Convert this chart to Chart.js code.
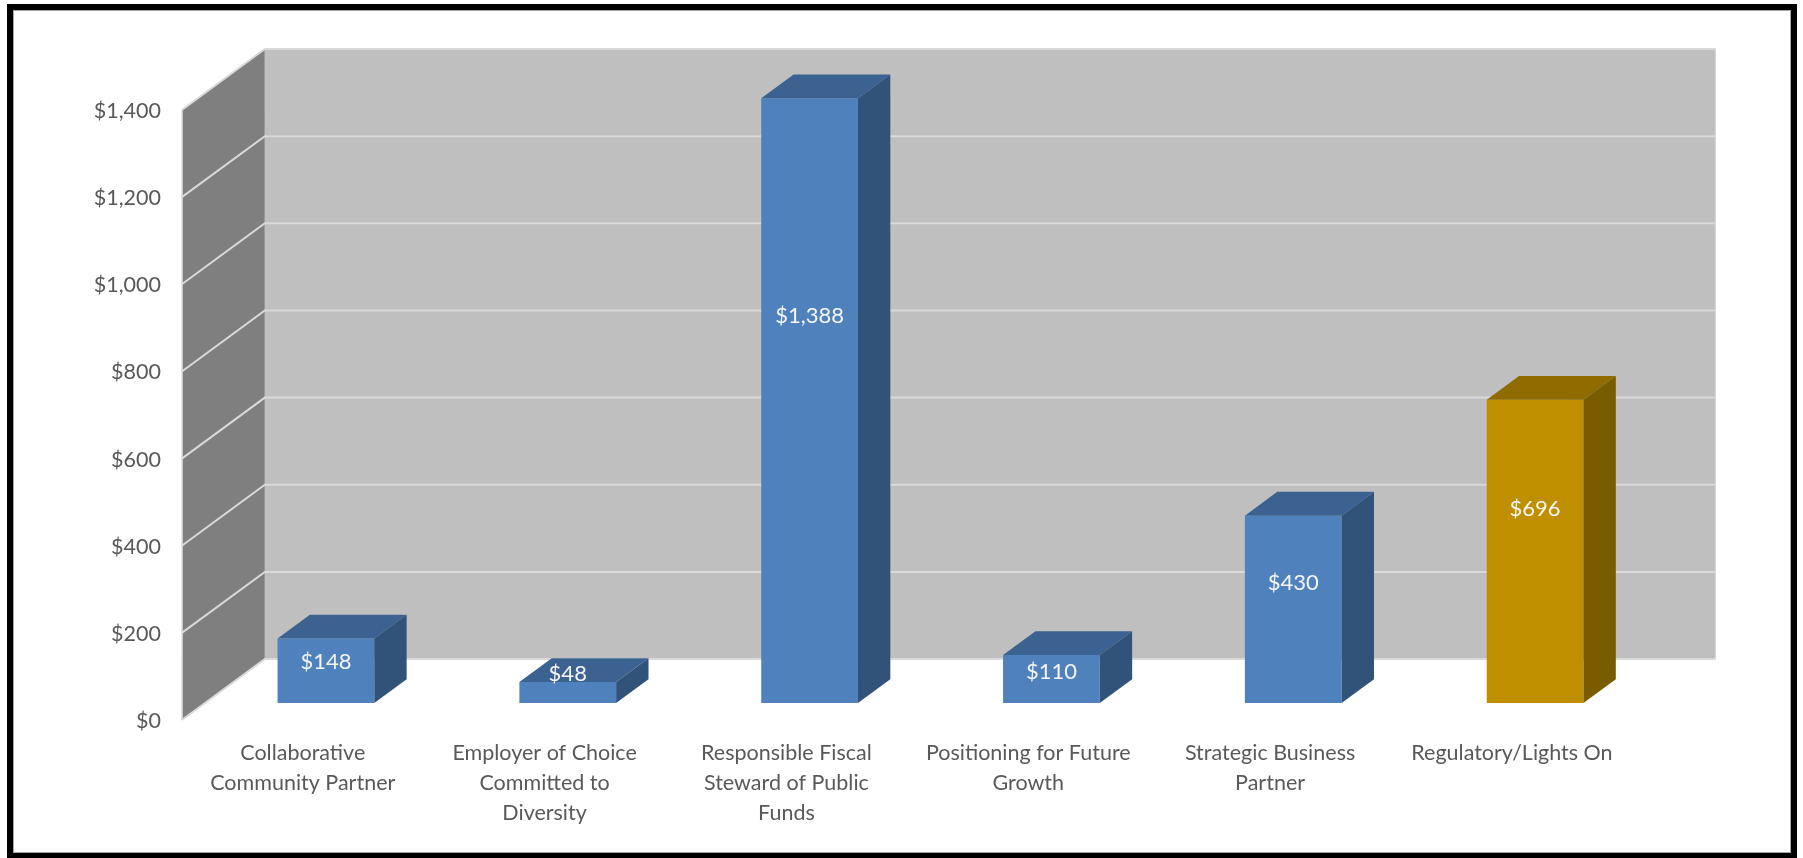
<!DOCTYPE html>
<html>
<head>
<meta charset="utf-8">
<title>Spending by Strategic Goal</title>
<script src="https://cdn.jsdelivr.net/npm/chart.js@4.4.1/dist/chart.umd.min.js"></script>
<style>
  html, body { margin: 0; padding: 0; background: #ffffff; overflow: hidden; }
  canvas { display: block; }
</style>
</head>
<body>
<canvas id="chart" width="1803" height="858"></canvas>
<script>
// ---- data ----
const categories = [
  ['Collaborative', 'Community Partner'],
  ['Employer of Choice', 'Committed to', 'Diversity'],
  ['Responsible Fiscal', 'Steward of Public', 'Funds'],
  ['Positioning for Future', 'Growth'],
  ['Strategic Business', 'Partner'],
  ['Regulatory/Lights On']
];
const amounts = [148, 48, 1388, 110, 430, 696];
const yTicks = [0, 200, 400, 600, 800, 1000, 1200, 1400];

// ---- styling ----
const TONES = {
  blue: { front: '#4F81BD', top: '#3C6291', side: '#31537A' },
  gold: { front: '#BF8F00', top: '#8F6B00', side: '#7A5C00' }
};
const barTone = ['blue', 'blue', 'blue', 'blue', 'blue', 'gold'];

const DEPTH = { x: 83, y: -61 };  // full floor depth as a screen offset
const BAR_FRONT = 0.279;          // depth fraction where column fronts stand
const BAR_DEPTH = 0.39;           // depth fraction a column occupies
const LABEL_FRACTION = 0.64;      // height along the column where its value is printed
const FONT = "Lato, 'Open Sans', sans-serif";
const TEXT_GREY = '#595959';

const money = v => '$' + Number(v).toLocaleString('en-US');

// walls + gridlines behind the columns, 3D faces and value labels on top
const walls = {
  id: 'walls',
  beforeDraw(chart) {
    const ctx = chart.ctx;
    ctx.save();
    ctx.fillStyle = '#ffffff';
    ctx.fillRect(0, 0, chart.width, chart.height);
    ctx.restore();
  },
  beforeDatasetsDraw(chart) {
    const { ctx, chartArea: a, scales: { y } } = chart;
    const fx = -BAR_FRONT * DEPTH.x, fy = -BAR_FRONT * DEPTH.y;
    const bx = (1 - BAR_FRONT) * DEPTH.x, by = (1 - BAR_FRONT) * DEPTH.y;
    const yTop = y.getPixelForValue(y.max), y0 = y.getPixelForValue(0);
    const Lf = a.left + fx, Lb = a.left + bx, Rb = a.right + bx;
    ctx.save();
    // side wall
    ctx.fillStyle = '#7F7F7F';
    ctx.beginPath();
    ctx.moveTo(Lf, y0 + fy);
    ctx.lineTo(Lf, yTop + fy);
    ctx.lineTo(Lb, yTop + by);
    ctx.lineTo(Lb, y0 + by);
    ctx.closePath();
    ctx.fill();
    // back wall
    ctx.fillStyle = '#BFBFBF';
    ctx.fillRect(Lb, yTop + by, Rb - Lb, y0 - yTop);
    // wall edges
    ctx.strokeStyle = '#D9D9D9';
    ctx.lineWidth = 1;
    ctx.beginPath();
    ctx.moveTo(Lf + 0.5, y0 + fy);
    ctx.lineTo(Lf + 0.5, yTop + fy);
    ctx.moveTo(Rb - 0.5, yTop + by);
    ctx.lineTo(Rb - 0.5, y0 + by);
    ctx.stroke();
    // gridlines across side and back walls
    ctx.lineWidth = 2;
    ctx.beginPath();
    for (const v of yTicks) {
      const p = y.getPixelForValue(v);
      ctx.moveTo(Lf, p + fy);
      ctx.lineTo(Lb, p + by);
      ctx.lineTo(Rb, p + by);
    }
    ctx.stroke();
    ctx.restore();
  },
  afterDatasetsDraw(chart) {
    const { ctx, scales: { y } } = chart;
    const meta = chart.getDatasetMeta(0);
    const dx = BAR_DEPTH * DEPTH.x, dy = BAR_DEPTH * DEPTH.y;
    ctx.save();
    meta.data.forEach((el, i) => {
      const { x, y: top, base, width } = el.getProps(['x', 'y', 'base', 'width'], true);
      const l = x - width / 2, r = x + width / 2;
      const tone = TONES[barTone[i]];
      // top face
      ctx.fillStyle = tone.top;
      ctx.beginPath();
      ctx.moveTo(l, top);
      ctx.lineTo(r, top);
      ctx.lineTo(r + dx, top + dy);
      ctx.lineTo(l + dx, top + dy);
      ctx.closePath();
      ctx.fill();
      // side face
      ctx.fillStyle = tone.side;
      ctx.beginPath();
      ctx.moveTo(r, top);
      ctx.lineTo(r + dx, top + dy);
      ctx.lineTo(r + dx, base + dy);
      ctx.lineTo(r, base);
      ctx.closePath();
      ctx.fill();
    });
    // value labels
    ctx.fillStyle = '#F5F5F5';
    ctx.font = '22px ' + FONT;
    ctx.textAlign = 'center';
    ctx.textBaseline = 'middle';
    meta.data.forEach((el, i) => {
      const { x, y: top, base } = el.getProps(['x', 'y', 'base'], true);
      const v = amounts[i];
      let ly = y.getPixelForValue(v * LABEL_FRACTION);
      if (base - top < 28) ly = top - 8;
      ctx.fillText(money(v), x, ly);
    });
    ctx.restore();
  },
  afterDraw(chart) {
    const ctx = chart.ctx;
    ctx.save();
    ctx.strokeStyle = '#000000';
    ctx.lineWidth = 6;
    ctx.strokeRect(10, 7, 1784, 849);
    ctx.strokeStyle = '#A6A6A6';
    ctx.lineWidth = 1;
    ctx.strokeRect(13.5, 10.5, 1777, 842);
    ctx.restore();
  }
};

new Chart(document.getElementById('chart'), {
  type: 'bar',
  data: {
    labels: categories,
    datasets: [{
      data: amounts,
      backgroundColor: barTone.map(t => TONES[t].front),
      borderWidth: 0,
      categoryPercentage: 1,
      barPercentage: 0.4
    }]
  },
  options: {
    responsive: false,
    animation: false,
    devicePixelRatio: 1,
    layout: { padding: { top: 93, right: 147, left: 0, bottom: 0 } },
    plugins: { legend: { display: false }, tooltip: { enabled: false } },
    scales: {
      x: {
        grid: { display: false, drawTicks: false },
        border: { display: false },
        ticks: {
          color: TEXT_GREY,
          font: { family: FONT, size: 21.5, lineHeight: '30px' },
          padding: 35,
          labelOffset: -BAR_FRONT * DEPTH.x,
          autoSkip: false,
          maxRotation: 0,
          minRotation: 0
        },
        afterFit(scale) { scale.height = 155; }
      },
      y: {
        min: 0,
        max: 1400,
        grid: { display: false, drawTicks: false },
        border: { display: false },
        afterBuildTicks(scale) { scale.ticks = yTicks.map(v => ({ value: v })); },
        ticks: {
          color: TEXT_GREY,
          font: { family: FONT, size: 21.5 },
          padding: 44,
          labelOffset: 18,
          callback: v => money(v)
        },
        afterFit(scale) { scale.width = 205; }
      }
    }
  },
  plugins: [walls]
});
</script>
</body>
</html>
